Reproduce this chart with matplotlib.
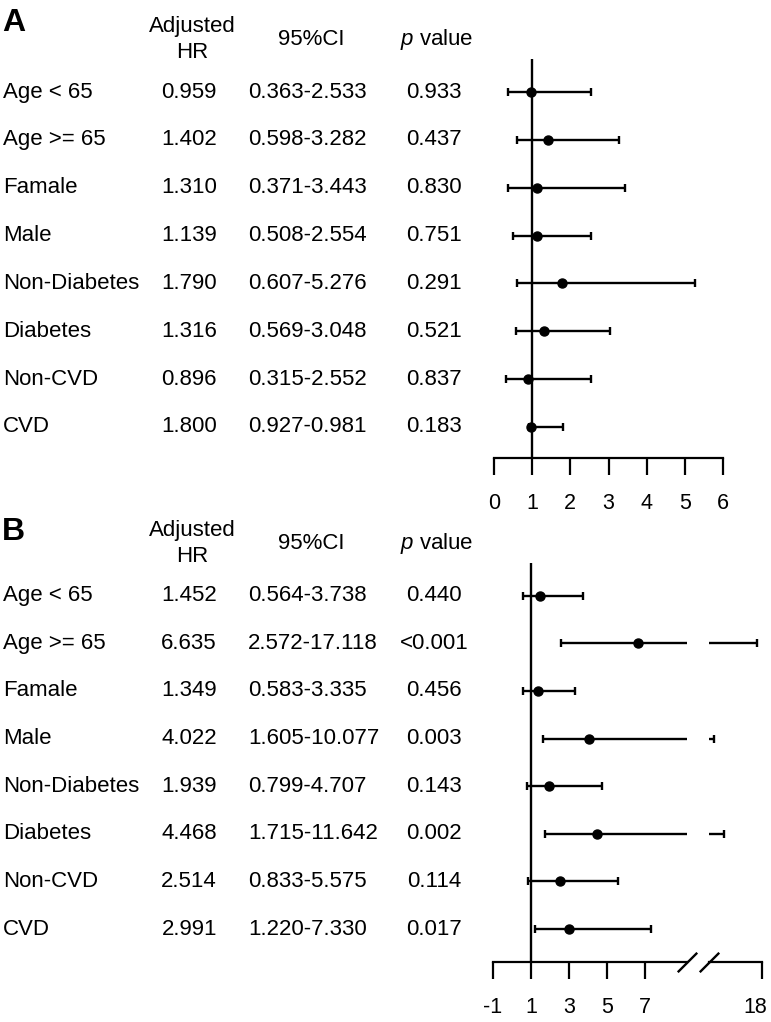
import matplotlib
matplotlib.use("Agg")
import matplotlib.pyplot as plt
from matplotlib.transforms import blended_transform_factory, ScaledTranslation

plt.rcParams['font.family'] = ['Liberation Sans', 'DejaVu Sans']
plt.rcParams['mathtext.fontset'] = 'custom'
plt.rcParams['mathtext.it'] = 'Liberation Sans:italic'
plt.rcParams['mathtext.rm'] = 'Liberation Sans'
plt.rcParams['axes.unicode_minus'] = False

# ---- data ----
groups = ['Age < 65', 'Age >= 65', 'Famale', 'Male', 'Non-Diabetes',
          'Diabetes', 'Non-CVD', 'CVD']

# panel A (table text)
hr_text_a = ['0.959', '1.402', '1.310', '1.139', '1.790', '1.316', '0.896', '1.800']
ci_text_a = ['0.363-2.533', '0.598-3.282', '0.371-3.443', '0.508-2.554',
             '0.607-5.276', '0.569-3.048', '0.315-2.552', '0.927-0.981']
p_text_a = ['0.933', '0.437', '0.830', '0.751', '0.291', '0.521', '0.837', '0.183']
# panel A (as drawn in the plot)
est_a = [0.959, 1.402, 1.12, 1.139, 1.790, 1.316, 0.896, 0.981]
lo_a = [0.363, 0.598, 0.371, 0.508, 0.607, 0.569, 0.315, 0.927]
hi_a = [2.533, 3.282, 3.443, 2.554, 5.276, 3.048, 2.552, 1.800]
ticks_a = [0, 1, 2, 3, 4, 5, 6]

# panel B
hr_text_b = ['1.452', '6.635', '1.349', '4.022', '1.939', '4.468', '2.514', '2.991']
ci_text_b = ['0.564-3.738', '2.572-17.118', '0.583-3.335', '1.605-10.077',
             '0.799-4.707', '1.715-11.642', '0.833-5.575', '1.220-7.330']
p_text_b = ['0.440', '<0.001', '0.456', '0.003', '0.143', '0.002', '0.114', '0.017']
est_b = [1.452, 6.635, 1.349, 4.022, 1.939, 4.468, 2.514, 2.991]
lo_b = [0.564, 2.572, 0.583, 1.605, 0.799, 1.715, 0.833, 1.220]
hi_b = [3.738, 17.118, 3.335, 10.077, 4.707, 11.642, 5.575, 7.330]
ticks_b_left = [-1, 1, 3, 5, 7]
ticks_b_right = [18]

W, H = 771, 1022
fig = plt.figure(figsize=(W / 100, H / 100), dpi=100)


def px_axes(x0, x1, y0, y1):
    """axes from pixel box (top-left origin)"""
    return fig.add_axes([x0 / W, 1 - y1 / H, (x1 - x0) / W, (y1 - y0) / H])


def style_axis(ax, ticks):
    for s in ['left', 'right', 'top']:
        ax.spines[s].set_visible(False)
    ax.spines['bottom'].set_linewidth(1.6)
    ax.set_yticks([])
    ax.set_xticks(ticks)
    ax.tick_params(axis='x', direction='out', length=12, width=1.6,
                   pad=13, labelsize=15.5)
    ax.patch.set_alpha(0)


def forest(ax, est, lo, hi):
    y = list(range(len(est)))
    err = [[e - l for e, l in zip(est, lo)], [h - e for e, h in zip(est, hi)]]
    ax.errorbar(est, y, xerr=err, fmt='o', color='black', ms=6.5,
                elinewidth=1.7, capsize=3, capthick=1.7)


def table(ax, letter, letter_y, hr, ci, p):
    tr = blended_transform_factory(fig.transFigure, ax.transData)
    fs = 16
    fig.text(0.003, 1 - letter_y / H, letter, fontsize=23, fontweight='bold',
             va='center', ha='left')
    hy = -1.1
    ax.text(192 / W, hy, 'Adjusted\nHR', transform=tr, ha='center', va='center',
            fontsize=fs, linespacing=1.3, clip_on=False)
    ax.text(311 / W, hy, '95%CI', transform=tr, ha='center', va='center',
            fontsize=fs, clip_on=False)
    ax.text(437 / W, hy, '$p$ value', transform=tr, ha='center', va='center',
            fontsize=fs, clip_on=False)
    for i, g in enumerate(groups):
        ax.text(3 / W, i, g, transform=tr, ha='left', va='center', fontsize=fs)
        ax.text(217 / W, i, hr[i], transform=tr, ha='right', va='center', fontsize=fs)
        ax.text(248 / W, i, ci[i], transform=tr, ha='left', va='center', fontsize=fs)
        ax.text(434 / W, i, p[i], transform=tr, ha='center', va='center', fontsize=fs)


# ---- panel A ----
ax_a = px_axes(494, 723, 59, 458)
ax_a.set_xlim(0, 6)
ax_a.set_ylim(7.65, -0.69)
ax_a.axvline(1, color='black', lw=1.7)
forest(ax_a, est_a, lo_a, hi_a)
style_axis(ax_a, ticks_a)
table(ax_a, 'A', 23, hr_text_a, ci_text_a, p_text_a)

# ---- panel B (broken x axis) ----
ax_b1 = px_axes(493, 687, 563, 962)
ax_b2 = px_axes(709, 762, 563, 962)
ax_b1.set_xlim(-1, 9.2)
ax_b2.set_xlim(9.2, 18)
for ax in (ax_b1, ax_b2):
    ax.set_ylim(7.69, -0.686)
ax_b1.axvline(1, color='black', lw=1.7)
forest(ax_b1, est_b, lo_b, hi_b)
forest(ax_b2, est_b, lo_b, hi_b)
style_axis(ax_b1, ticks_b_left)
style_axis(ax_b2, ticks_b_right)

# the "18" label sits a little left of its tick in the original
shift = ScaledTranslation(-7 / 100, 0, fig.dpi_scale_trans)
for lab in ax_b2.get_xticklabels():
    lab.set_transform(lab.get_transform() + shift)

# break marks
slash = dict(marker=[(-1, -1), (1, 1)], markersize=14, linestyle='none',
             color='black', mec='black', mew=1.7, clip_on=False)
ax_b1.plot([1], [0], transform=ax_b1.transAxes, **slash)
ax_b2.plot([0], [0], transform=ax_b2.transAxes, **slash)

table(ax_b1, 'B', 532, hr_text_b, ci_text_b, p_text_b)

fig.savefig('out.png', dpi=100)
